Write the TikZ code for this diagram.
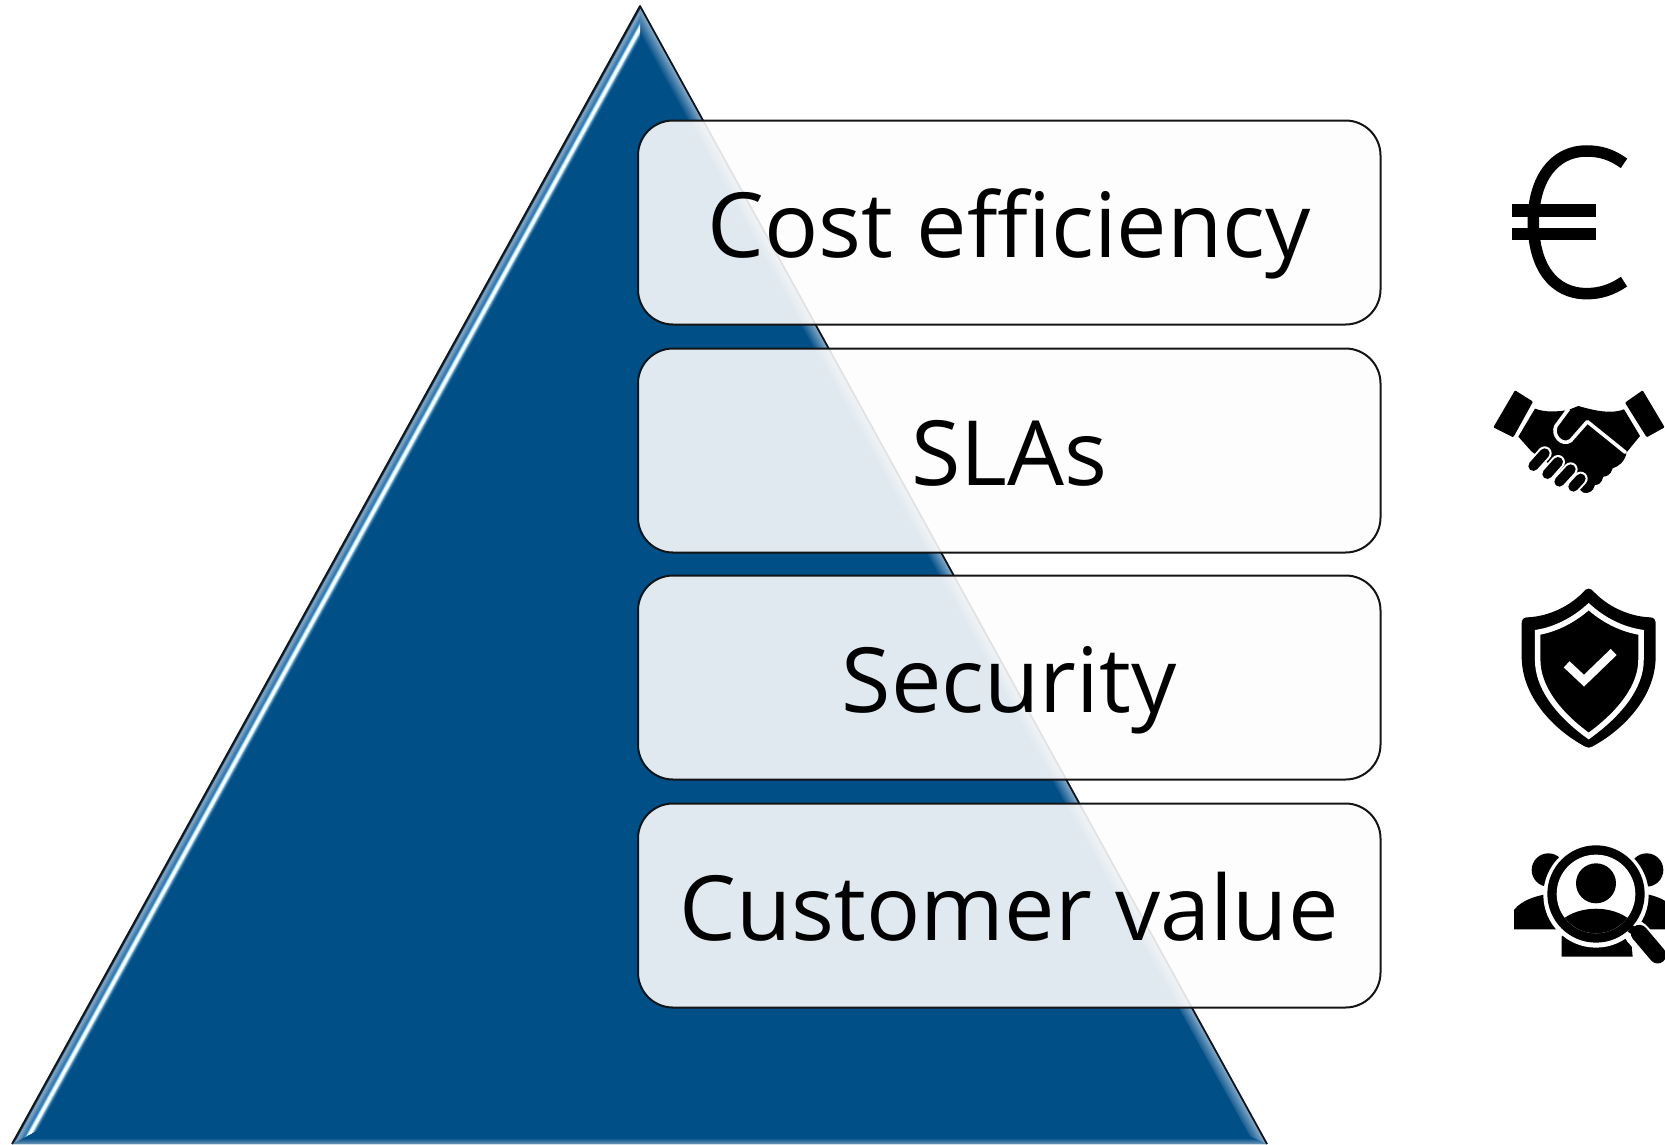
\documentclass[tikz,border=0pt]{standalone}
\usepackage{fontspec}
\setmainfont{Open Sans}
\definecolor{base}{RGB}{1,79,135}
\definecolor{bev}{RGB}{135,170,200}
\definecolor{edge}{RGB}{20,20,20}
\definecolor{cardfill}{RGB}{253,253,253}
\tikzset{
  card/.style={draw=edge,line width=2pt,fill=cardfill,fill opacity=.885,text opacity=1,rounded corners=35pt,
    minimum width=742.5pt,minimum height=204pt,inner sep=0pt,text height=70pt,text depth=0pt,
    font=\fontsize{90}{94}\selectfont,text=black},
  gap/.style={draw=white,line cap=round,line join=round},
}
\begin{document}
\begin{tikzpicture}[x=1pt,y=-1pt]
\useasboundingbox (0,0) rectangle (1665,1144);
\clip (0,0) rectangle (1665,1144);
% pyramid
\fill[base] (640,6) -- (1267,1144) -- (12,1144) -- cycle;
\begin{scope}
  \clip (640,6) -- (1267,1144) -- (12,1144) -- cycle;
  \foreach \i in {0,...,6} {
    \pgfmathsetmacro\p{(6-\i)*100/6*0.8}
    \draw[line width=1.3pt,color=bev!\p!base] (0,1144-\i) -- (1300,1144-\i);
  }
\end{scope}
\begin{scope}
  \clip (640,6) -- (1267,1144) -- (1250,1136) -- (640,39) -- cycle;
  \foreach \i in {15,...,0} {
    \pgfmathsetmacro\p{(15-\i)*100/15}
    \draw[line width=1.5pt,color=bev!\p!base] (640-\i,6) -- (1267-\i,1144);
  }
\end{scope}
\begin{scope}
  \clip (640,6) -- (640,39) -- (38,1130) -- (12,1144) -- cycle;
  \foreach \o/\c in {18/base,17/{rgb,255:red,20;green,95;blue,150},16/{rgb,255:red,40;green,118;blue,175},15/{rgb,255:red,90;green,160;blue,205},14/{rgb,255:red,170;green,215;blue,242},13/white,12/white,11/white,10/{rgb,255:red,185;green,225;blue,245},9/{rgb,255:red,95;green,160;blue,205},8/{rgb,255:red,50;green,125;blue,180},7/{rgb,255:red,55;green,125;blue,180},6/{rgb,255:red,75;green,135;blue,185},5/{rgb,255:red,95;green,145;blue,185},4/{rgb,255:red,115;green,155;blue,190},3/{rgb,255:red,125;green,160;blue,190}} {
    \draw[line width=1.6pt,color=\c] (640+\o,6) -- (12+\o,1144);
  }
\end{scope}
\draw[edge,line width=1.8pt,line join=round] (12,1144) -- (640,6) -- (1267,1144);
% cards
\node[card] (cost) at (1009.25,222.5) {Cost efficiency};
\node[card] (sla) at (1009.25,450.5) {SLAs};
\node[card] (sec) at (1009.25,677.5) {Security};
\node[card] (cust) at (1009.25,905.5) {Customer value};
% euro + handshake, in the coordinates of the zoomed crop
\begin{scope}[shift={(1470,120)},x=.3333pt,y=-.3333pt]
  \draw[black,line width=11.5pt] (462,130) .. controls (425,103) and (390,93) .. (350,93)
     .. controls (250,93) and (190,180) .. (190,305)
     .. controls (190,440) and (250,521) .. (350,521)
     .. controls (390,521) and (425,510) .. (462,485);
  \fill[black] (127,253) rectangle (377,290);
  \fill[black] (127,325) rectangle (377,361);
  % handshake
  \fill[black,rounded corners=1pt] (135,811) -- (189,845) -- (130,952) -- (70,922) -- cycle;
  \fill[black,rounded corners=1pt] (518,811) -- (584,922) -- (530,952) -- (465,848) -- cycle;
  \fill[black] (195,866) .. controls (225,878) and (265,875) .. (295,870)
     -- (325,858) .. controls (360,868) and (420,885) .. (462,868) -- (510,948) -- (470,997)
     .. controls (465,1025) and (445,1040) .. (428,1045)
     .. controls (422,1065) and (410,1070) .. (400,1070)
     .. controls (395,1090) and (385,1095) .. (375,1095)
     .. controls (370,1115) and (355,1122) .. (340,1118)
     -- (250,1040) -- (185,995) -- (145,950) -- cycle;
  \draw[gap,line width=3.6pt] (295,868) -- (258,918) .. controls (245,945) and (275,980) .. (302,962) -- (352,905) -- (466,997);
  \foreach \ax/\ay/\bx/\by in {190/1038/224/1000,232/1062/264/1026,268/1085/302/1048,310/1100/332/1076} {
    \draw[gap,line width=14pt] (\ax,\ay) -- (\bx,\by);
    \draw[black,line cap=round,line width=10pt] (\ax,\ay) -- (\bx,\by);
  }
\end{scope}
% shield + people, in the coordinates of the zoomed crop
\begin{scope}[shift={(1490,570)},x=.3333pt,y=-.3333pt]
  \fill[black] (278,68) .. controls (290,52) and (302,52) .. (314,68)
     .. controls (360,115) and (425,140) .. (480,142)
     .. controls (492,142) and (497,150) .. (497,160)
     -- (497,260) .. controls (497,380) and (400,480) .. (306,530)
     .. controls (300,534) and (292,534) .. (286,530)
     .. controls (192,480) and (95,380) .. (95,260) -- (95,160)
     .. controls (95,150) and (100,142) .. (112,142)
     .. controls (167,140) and (232,115) .. cycle;
  \draw[white,line width=5.5pt,miter limit=4] (296,110) .. controls (340,150) and (395,178) .. (453,187)
     -- (453,270) .. controls (453,350) and (390,430) .. (296,498)
     .. controls (202,430) and (143,350) .. (143,270) -- (143,187)
     .. controls (197,178) and (252,150) .. cycle;
  \draw[white,line width=8.5pt] (230,283) -- (282,332) -- (371,246);
  % people
  \fill[black] (175,900) circle[radius=50];
  \fill[black] (470,900) circle[radius=50];
  \fill[black] (72,1078) -- (72,1020) .. controls (95,990) and (140,975) .. (200,968) -- (230,1078) -- cycle;
  \fill[black] (560,1078) -- (560,1020) .. controls (530,990) and (500,975) .. (440,968) -- (410,1078) -- cycle;
  \fill[black] (215,1160) -- (215,1100) -- (230,1075) -- (420,1075) -- (428,1160) -- cycle;
  \fill[white] (318,975) circle[radius=158];
  \draw[gap,line width=25pt] (440,1090) -- (503,1158);
  \fill[black] (318,972) circle[radius=146];
  \fill[white] (318,972) circle[radius=118];
  \begin{scope}
    \clip (318,972) circle[radius=118];
    \fill[black] (215,1050) .. controls (270,1005) and (366,1005) .. (421,1050) -- (421,1130) -- (215,1130) -- cycle;
  \end{scope}
  \fill[black] (318,940) circle[radius=60];
  \draw[black,line cap=round,line width=17pt] (448,1090) -- (503,1155);
  \draw[black,line width=8pt] (420,1075) -- (450,1095);
\end{scope}
\end{tikzpicture}
\end{document}
